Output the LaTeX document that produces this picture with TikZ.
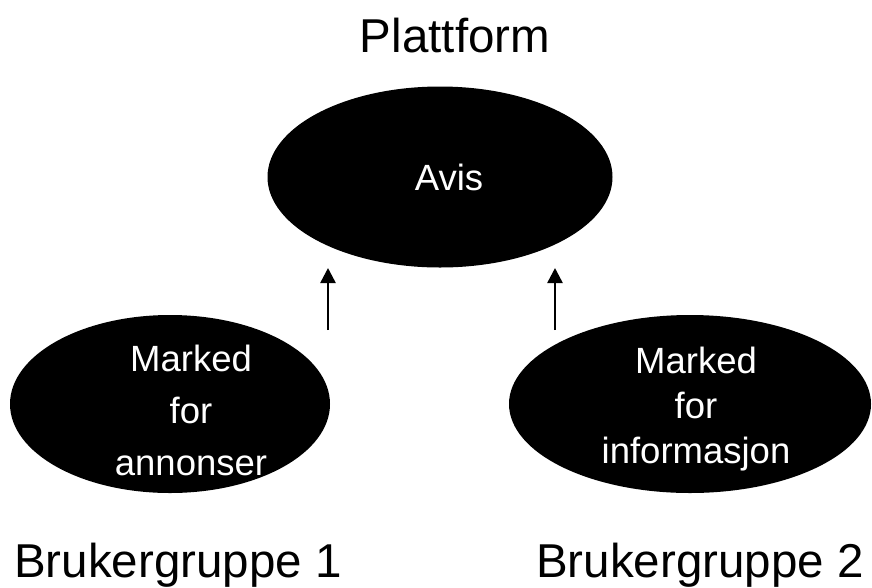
\documentclass[tikz,border=0pt]{standalone}
\usepackage{fontspec}
\setmainfont{Liberation Sans}
\usetikzlibrary{shapes.geometric,arrows.meta}
\begin{document}
\begin{tikzpicture}[x=1pt,y=-1pt,
  blob/.style={ellipse,fill=black,draw=none,inner sep=0pt},
  intext/.style={text=white,align=center,anchor=base},
  bigtext/.style={text=black,anchor=base},
  flow/.style={line width=2.5pt,-{Triangle[length=15pt,width=15pt]}}]
\useasboundingbox (0,0) rectangle (872,587);
\node[bigtext,font=\fontsize{47.5}{50}\selectfont] (title) at (455,52) {Plattform};
\node[blob,minimum width=345pt,minimum height=181pt] (avis) at (440,177) {};
\node[intext,font=\fontsize{36.5}{45}\selectfont] (avistext) at (449,190) {Avis};
\node[blob,minimum width=320pt,minimum height=178pt] (left) at (170,404) {};
\node[blob,minimum width=362pt,minimum height=178pt] (right) at (690,404) {};
\node[intext,font=\fontsize{36.5}{52}\selectfont] (lefttext) at (191,475) {Marked\\for\\annonser};
\node[intext,font=\fontsize{36.5}{45}\selectfont] (righttext) at (696,463) {Marked\\for\\informasjon};
\coordinate (a1s) at (328,330);
\coordinate (a1e) at (328,268);
\coordinate (a2s) at (555,330);
\coordinate (a2e) at (555,268);
\draw[flow] (a1s) -- (a1e);
\draw[flow] (a2s) -- (a2e);
\node[bigtext,font=\fontsize{47.5}{50}\selectfont] (bg1) at (178,577) {Brukergruppe 1};
\node[bigtext,font=\fontsize{47.5}{50}\selectfont] (bg2) at (700,577) {Brukergruppe 2};
\end{tikzpicture}
\end{document}
